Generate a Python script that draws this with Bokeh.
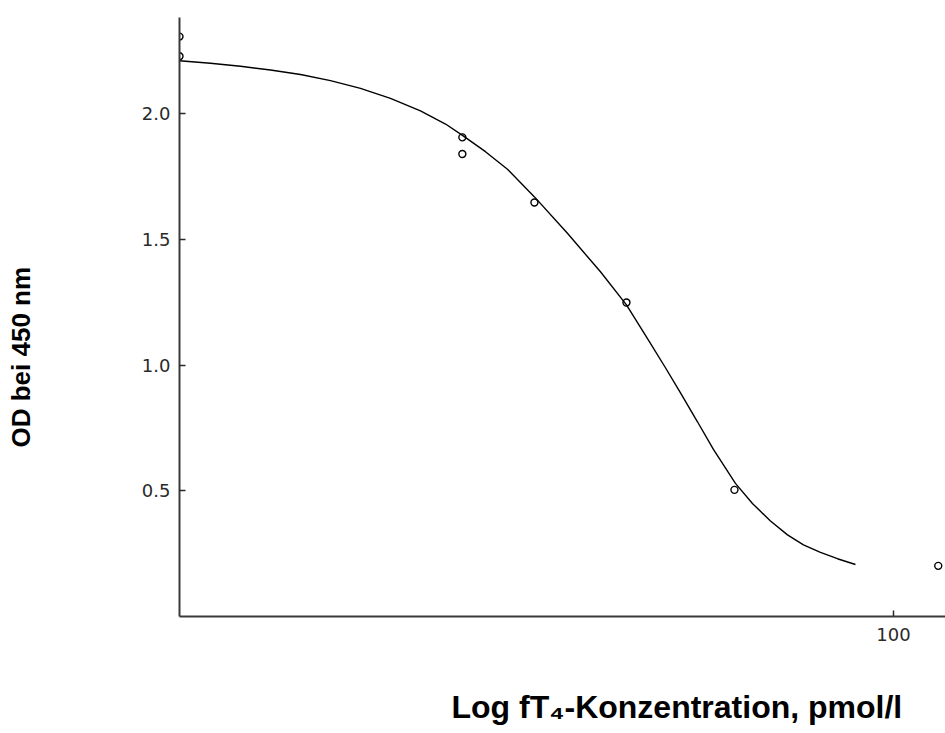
from bokeh.plotting import figure
from bokeh.models import Range1d, FixedTicker, NumeralTickFormatter, Title
from bokeh.embed import file_html
from bokeh.resources import INLINE

# Measured standards (zero standard drawn at the axis origin)
conc = [1.0, 1.0, 6.20, 6.20, 9.87, 17.87, 35.86, 133.5]
od = [2.308, 2.230, 1.907, 1.841, 1.648, 1.250, 0.504, 0.2015]

# Fitted curve
curve_conc = [1.0, 1.221, 1.482, 1.798, 2.183, 2.648, 3.214, 3.899, 4.732, 5.563,
              6.204, 7.196, 8.294, 9.872, 12.21, 15.11, 17.87, 20.59, 22.98,
              25.32, 28.25, 31.31, 36.09, 40.27, 45.24, 50.49, 55.96, 62.45,
              69.68, 78.27]
curve_od = [2.212, 2.202, 2.190, 2.175, 2.157, 2.133, 2.102, 2.062, 2.012, 1.960,
            1.915, 1.850, 1.780, 1.670, 1.525, 1.372, 1.240, 1.100, 0.990,
            0.890, 0.775, 0.665, 0.530, 0.450, 0.380, 0.325, 0.285, 0.255,
            0.230, 0.207]

x_ticks = [100]
y_ticks = [0.5, 1.0, 1.5, 2.0]

x_label = "Log fT\u2084-Konzentration, pmol/l"
y_label = "OD bei 450 nm"

W, H = 945, 733
p = figure(width=W, height=H, x_axis_type="log",
           x_range=Range1d(1.0, 139.9), y_range=Range1d(0.0, 2.384),
           output_backend="svg", toolbar_location=None,
           min_border_left=179, min_border_right=0,
           min_border_top=17, min_border_bottom=117)
p.outline_line_color = None
p.xgrid.visible = False
p.ygrid.visible = False
p.background_fill_color = "white"
p.border_fill_color = "white"

for ax in (p.xaxis, p.yaxis):
    ax.axis_line_color = "#3a3a3a"
    ax.axis_line_width = 2
    ax.major_tick_line_color = "#2a2a2a"
    ax.major_tick_line_width = 1.5
    ax.major_tick_in = 6
    ax.major_tick_out = 0
    ax.minor_tick_in = 0
    ax.minor_tick_out = 0
    ax.minor_tick_line_color = None
    ax.major_label_text_font = "DejaVu Sans"
    ax.major_label_text_font_size = "18px"
    ax.major_label_text_color = "#2a2a2a"

p.xaxis.ticker = FixedTicker(ticks=x_ticks)
p.xaxis.formatter = NumeralTickFormatter(format="0")
p.xaxis.major_label_standoff = 11
p.yaxis.ticker = FixedTicker(ticks=y_ticks)
p.yaxis.formatter = NumeralTickFormatter(format="0.0")
p.yaxis.major_label_standoff = 9

p.line(curve_conc, curve_od, line_color="black", line_width=1.4)
p.scatter(conc, od, marker="circle", size=7, fill_color=None,
          line_color="black", line_width=1.4)

# Titles are centred in their side panels; blank lines push the visible
# line away from the frame without growing the panels past min_border.
xt = Title(text="\n" + x_label, align="left", offset=272,
           text_font="Liberation Sans", text_font_style="bold",
           text_font_size="32px", text_color="black", text_line_height=1.0)
yt = Title(text=y_label + "\n\n\n", align="left", offset=169,
           text_font="Liberation Sans", text_font_style="bold",
           text_font_size="26px", text_color="black", text_line_height=1.11)
xt.standoff = 14
yt.standoff = 5
p.add_layout(xt, "below")
p.add_layout(yt, "left")

open("out.html", "w").write(file_html(p, INLINE))
